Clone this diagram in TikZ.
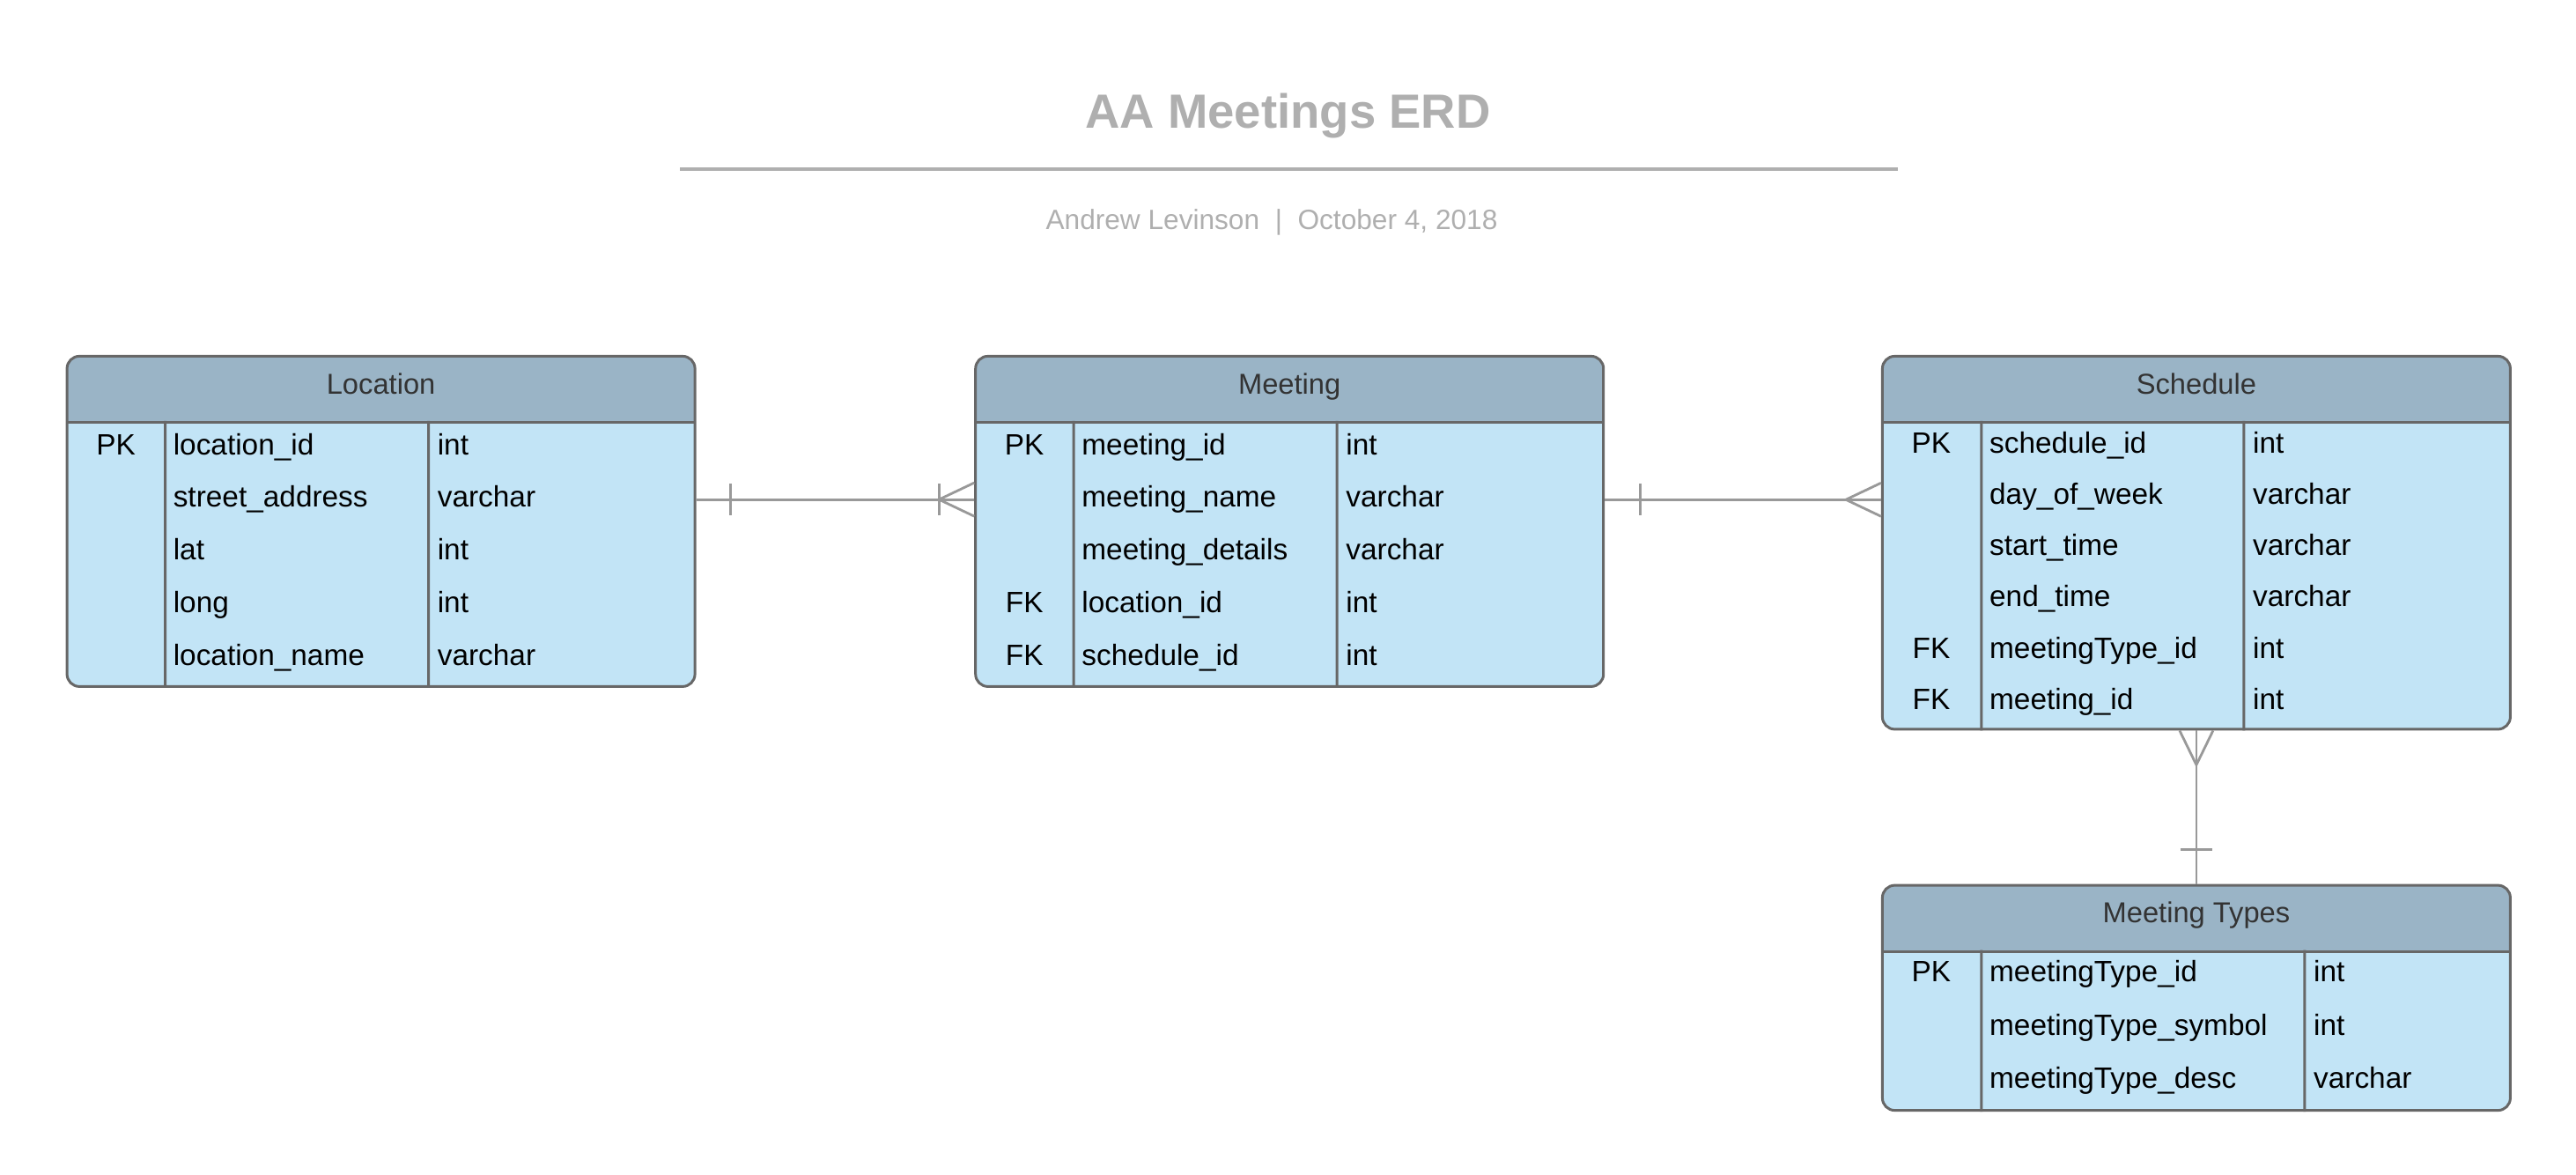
\documentclass[tikz,border=0pt]{standalone}
\usepackage{fontspec}
\setmainfont{Liberation Sans}
\definecolor{headblue}{HTML}{9AB4C6}
\definecolor{bodyblue}{HTML}{C2E4F6}
\definecolor{boxline}{HTML}{676767}
\definecolor{linkgray}{HTML}{999999}
\definecolor{titlegray}{HTML}{AFAFAF}
\definecolor{headtext}{HTML}{333333}
\begin{document}
\begin{tikzpicture}[
        entity/.style={draw=boxline,fill=bodyblue,line width=0.85pt,rounded corners=4pt,
            minimum width=7.13cm,inner sep=0pt,anchor=north west,
            path picture={\fill[headblue,sharp corners] (path picture bounding box.north west) rectangle ([yshift=-0.75cm]path picture bounding box.north east);
                \draw[boxline,line width=0.85pt,sharp corners] ([yshift=-0.75cm]path picture bounding box.north west) -- ([yshift=-0.75cm]path picture bounding box.north east);}},
        headtitle/.style={anchor=mid,inner sep=0pt,text=headtext,font=\fontsize{9.3}{11}\selectfont},
        keytext/.style={anchor=mid,inner sep=0pt,font=\fontsize{9.5}{11}\selectfont},
        fieldtext/.style={anchor=mid west,inner sep=0pt,font=\fontsize{9.5}{11}\selectfont},
        divider/.style={draw=boxline,line width=0.85pt},
        link/.style={draw=linkgray,line width=0.8pt}]
    \useasboundingbox (0,0) rectangle (29.25,-13.33);

    % title block
    \node[anchor=base,inner sep=0pt,text=titlegray,font=\bfseries\fontsize{15.5}{18}\selectfont] (title) at (14.625,-1.45) {AA Meetings ERD};
    \draw[titlegray,line width=1.1pt] (7.72,-1.92) -- (21.55,-1.92);
    \node[anchor=base,inner sep=0pt,text=titlegray,font=\fontsize{9}{11}\selectfont] (byline) at (14.44,-2.607) {Andrew Levinson \ | \ October 4, 2018};

    % Location
    \node[entity,minimum height=3.75cm] (loc) at (0.746,-4.029) {};
    \node[headtitle] (loc-name) at ([yshift=-0.35cm]loc.north) {Location};
    \draw[divider] ([shift={(1.13,-0.75)}]loc.north west) -- ([xshift=1.13cm]loc.south west);
    \draw[divider] ([shift={(4.12,-0.75)}]loc.north west) -- ([xshift=4.12cm]loc.south west);
    \foreach \k/\f/\t [count=\i] in {PK/location\_id/int,/street\_address/varchar,/lat/int,/long/int,/location\_name/varchar}{
        \node[keytext] (loc-k\i) at ([shift={(0.57,{-1.04-(\i-1)*0.597})}]loc.north west) {\k};
        \node[fieldtext] (loc-f\i) at ([shift={(1.215,{-1.04-(\i-1)*0.597})}]loc.north west) {\f};
        \node[fieldtext] (loc-t\i) at ([shift={(4.215,{-1.04-(\i-1)*0.597})}]loc.north west) {\t};
    }

    % Meeting
    \node[entity,minimum height=3.75cm] (meet) at (11.062,-4.029) {};
    \node[headtitle] (meet-name) at ([yshift=-0.35cm]meet.north) {Meeting};
    \draw[divider] ([shift={(1.13,-0.75)}]meet.north west) -- ([xshift=1.13cm]meet.south west);
    \draw[divider] ([shift={(4.12,-0.75)}]meet.north west) -- ([xshift=4.12cm]meet.south west);
    \foreach \k/\f/\t [count=\i] in {PK/meeting\_id/int,/meeting\_name/varchar,/meeting\_details/varchar,FK/location\_id/int,FK/schedule\_id/int}{
        \node[keytext] (meet-k\i) at ([shift={(0.57,{-1.04-(\i-1)*0.597})}]meet.north west) {\k};
        \node[fieldtext] (meet-f\i) at ([shift={(1.215,{-1.04-(\i-1)*0.597})}]meet.north west) {\f};
        \node[fieldtext] (meet-t\i) at ([shift={(4.215,{-1.04-(\i-1)*0.597})}]meet.north west) {\t};
    }

    % Schedule
    \node[entity,minimum height=4.235cm] (sched) at (21.359,-4.029) {};
    \node[headtitle] (sched-name) at ([yshift=-0.35cm]sched.north) {Schedule};
    \draw[divider] ([shift={(1.14,-0.75)}]sched.north west) -- ([xshift=1.14cm]sched.south west);
    \draw[divider] ([shift={(4.12,-0.75)}]sched.north west) -- ([xshift=4.12cm]sched.south west);
    \foreach \k/\f/\t [count=\i] in {PK/schedule\_id/int,/day\_of\_week/varchar,/start\_time/varchar,/end\_time/varchar,FK/meetingType\_id/int,FK/meeting\_id/int}{
        \node[keytext] (sched-k\i) at ([shift={(0.57,{-1.02-(\i-1)*0.582})}]sched.north west) {\k};
        \node[fieldtext] (sched-f\i) at ([shift={(1.225,{-1.02-(\i-1)*0.582})}]sched.north west) {\f};
        \node[fieldtext] (sched-t\i) at ([shift={(4.215,{-1.02-(\i-1)*0.582})}]sched.north west) {\t};
    }

    % Meeting Types
    \node[entity,minimum height=2.555cm] (mtype) at (21.359,-10.036) {};
    \node[headtitle] (mtype-name) at ([yshift=-0.35cm]mtype.north) {Meeting Types};
    \draw[divider] ([shift={(1.14,-0.75)}]mtype.north west) -- ([xshift=1.14cm]mtype.south west);
    \draw[divider] ([shift={(4.81,-0.75)}]mtype.north west) -- ([xshift=4.81cm]mtype.south west);
    \foreach \k/\f/\t [count=\i] in {PK/meetingType\_id/int,/meetingType\_symbol/int,/meetingType\_desc/varchar}{
        \node[keytext] (mtype-k\i) at ([shift={(0.57,{-1.02-(\i-1)*0.605})}]mtype.north west) {\k};
        \node[fieldtext] (mtype-f\i) at ([shift={(1.225,{-1.02-(\i-1)*0.605})}]mtype.north west) {\f};
        \node[fieldtext] (mtype-t\i) at ([shift={(4.905,{-1.02-(\i-1)*0.605})}]mtype.north west) {\t};
    }

    % Location one -- many Meeting
    \coordinate (lm-a) at (loc.east |- loc-f2);
    \coordinate (lm-b) at (meet.west |- loc-f2);
    \draw[link] (lm-a) -- (lm-b);
    \draw[link] ([shift={(0.39,0.18)}]lm-a) -- ++(0,-0.36);
    \draw[link] ([shift={(-0.4,0.18)}]lm-b) -- ++(0,-0.36);
    \draw[link] ([yshift=0.19cm]lm-b) -- ([xshift=-0.4cm]lm-b) -- ([yshift=-0.19cm]lm-b);

    % Meeting one -- many Schedule
    \coordinate (ms-a) at (meet.east |- meet-f2);
    \coordinate (ms-b) at (sched.west |- meet-f2);
    \draw[link] (ms-a) -- (ms-b);
    \draw[link] ([shift={(0.4,0.18)}]ms-a) -- ++(0,-0.36);
    \draw[link] ([yshift=0.19cm]ms-b) -- ([xshift=-0.4cm]ms-b) -- ([yshift=-0.19cm]ms-b);

    % Schedule many -- one Meeting Types
    \draw[link] (sched.south) -- (mtype.north);
    \draw[link] ([xshift=-0.19cm]sched.south) -- ([yshift=-0.39cm]sched.south) -- ([xshift=0.19cm]sched.south);
    \draw[link] ([shift={(-0.18,0.39)}]mtype.north) -- ++(0.36,0);
\end{tikzpicture}
\end{document}
